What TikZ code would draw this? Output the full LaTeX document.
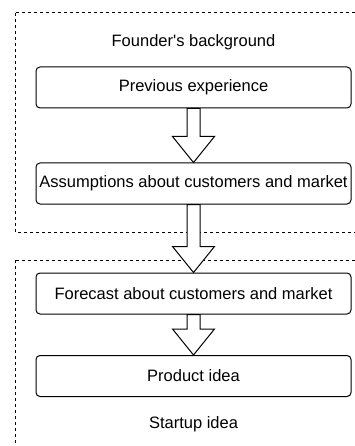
\documentclass[tikz,border=0pt]{standalone}
\usepackage{fontspec}
\setmainfont{Liberation Sans}
\usetikzlibrary{calc}

\tikzset{
	stepbox/.style={draw, line width=1pt, rounded corners=4pt, minimum width=315pt, minimum height=41pt, inner sep=0pt, font=\fontsize{16.5}{20}\selectfont},
	grouplabel/.style={font=\fontsize{16.5}{20}\selectfont},
	groupframe/.style={line width=1pt, dash pattern=on 3pt off 3pt}
}
\newcommand{\fatarrow}[2]{%
	\draw[line width=1pt, fill=white, line join=miter] let \p1=(#1.south), \p2=(#2.north) in
	(\x1-6.5pt,\y1) -- (\x1-6.5pt,\y2+26pt) -- (\x1-21pt,\y2+26pt) -- (\x2,\y2)
	-- (\x1+21pt,\y2+26pt) -- (\x1+6.5pt,\y2+26pt) -- (\x1+6.5pt,\y1) -- cycle;}

\begin{document}
\begin{tikzpicture}[x=1pt,y=-1pt]
\useasboundingbox (0,0) rectangle (355,446);
\clip (0,0) rectangle (355,446);
\draw[groupframe] (15,13) rectangle (380,232);
\draw[groupframe] (15,260) rectangle (380,470);
\node[grouplabel] (founder) at (193.5,42) {Founder\textquotesingle s background};
\node[grouplabel] (startup) at (193.5,424) {Startup idea};
\node[stepbox] (experience) at (193.5,87.5) {Previous experience};
\node[stepbox] (assumptions) at (193.5,183.5) {Assumptions about customers and market};
\node[stepbox] (forecast) at (193.5,293.5) {Forecast about customers and market};
\node[stepbox] (product) at (193.5,376) {Product idea};
\fatarrow{experience}{assumptions}
\fatarrow{assumptions}{forecast}
\fatarrow{forecast}{product}
\end{tikzpicture}
\end{document}
